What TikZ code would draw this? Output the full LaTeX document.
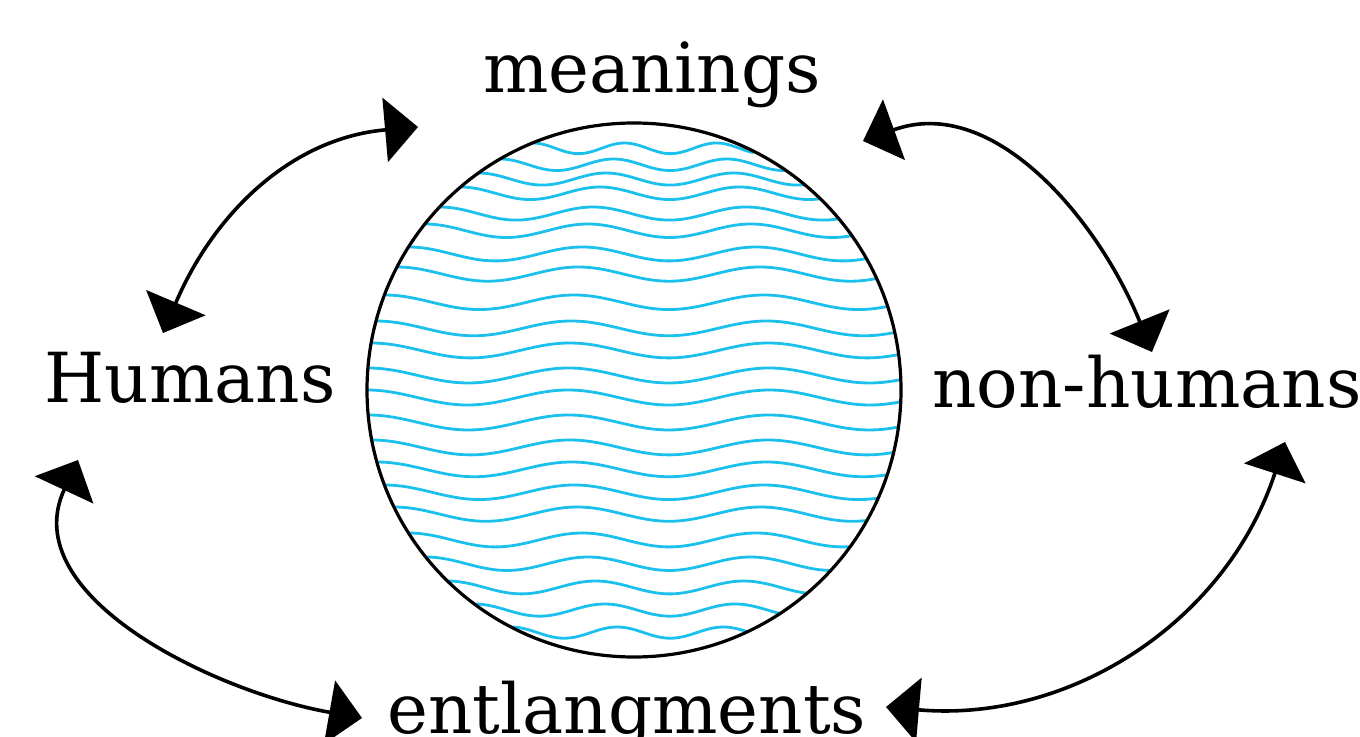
\documentclass[tikz,border=0pt]{standalone}
\usepackage{fontspec}
\usetikzlibrary{arrows.meta, positioning}
\newfontfamily\labelfont{DejaVu Serif}
\definecolor{wavecol}{RGB}{28,192,236}

\begin{document}
\begin{tikzpicture}[
    x=0.5pt, y=-0.5pt,
    label/.style={font=\labelfont\fontsize{34.5pt}{40pt}\selectfont, inner sep=0pt, anchor=base},
    ball/.style={circle, draw=black, line width=1.6pt, minimum size=267pt, inner sep=0pt},
    wave/.style={draw=wavecol, line width=1.4pt},
    link/.style={line width=1.8pt, {Triangle[length=16.5pt, width=32pt]}-{Triangle[length=16.5pt, width=32pt]}}
]
\useasboundingbox (0,0) rectangle (1360,737);

% Labels
\node (meanings) [label] at (652,93) {meanings};
\node (humans) [label] at (190,403) {Humans};
\node (nonhumans) [label] at (1147,408) {non-humans};
\node (entl) [label] at (627,733) {entlangments};

% Waves inside the ball
\begin{scope}
\clip (634,390) circle[radius=267];
\foreach \ys in {143,159,173,187,207,224,247,267,295,321,343,368,390,415,440,462,485,507,533,557,581,604,627} {
    \pgfmathsetmacro\half{267*sqrt(1-((\ys-390)/267)^2)}
    \pgfmathsetmacro\xl{634-\half}
    \pgfmathsetmacro\xr{634+\half+18}
    \pgfmathsetmacro\freq{360/(0.66*\half+25)}
    \pgfmathsetmacro\amp{4+3.5*\half/267}
    \draw[wave] plot[domain=\xl:\xr, samples=90, smooth] (\x, {\ys+\amp-\amp*cos(\freq*(\x-\xl))});
}
\end{scope}
\node (globe) [ball] at (634,390) {};

% Arrow ends
\coordinate (humUp) at (163,333);
\coordinate (meanL) at (418,127);
\coordinate (meanR) at (863,141);
\coordinate (nonUp) at (1152,352);
\coordinate (humDn) at (78,460);
\coordinate (entL) at (362,718);
\coordinate (entR) at (886,707);
\coordinate (nonDn) at (1285,442);

% Arrows
\draw [link] (humUp) to[out=67, in=185] (meanL);
\draw [link] (meanR) to[out=20, in=112] (nonUp);
\draw [link] (humDn) to[out=245, in=170] (entL);
\draw [link] (entR) to[out=-5, in=252] (nonDn);

\end{tikzpicture}
\end{document}
